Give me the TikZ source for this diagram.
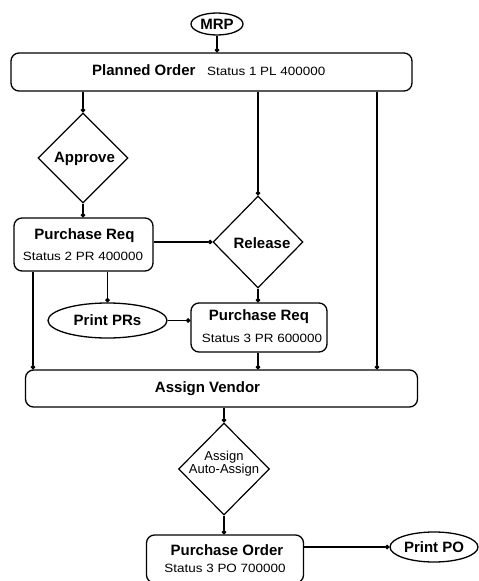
\documentclass[tikz,border=0pt]{standalone}
\usepackage{fontspec}
\setmainfont{Liberation Sans}
\newfontfamily\stfont{Liberation Sans}[FakeStretch=1.12]
\usetikzlibrary{shapes.geometric,arrows.meta}
\begin{document}
\begin{tikzpicture}[x=1pt,y=-1pt,
  box/.style={draw,line width=1.3pt,rounded corners=8pt,inner sep=0pt,align=center},
  oval/.style={draw,ellipse,line width=1.3pt,inner sep=0pt},
  dia/.style={draw,diamond,line width=1.2pt,inner sep=0pt,aspect=1},
  conn/.style={line width=1.1pt,-{Circle[length=4.5pt]}},
  mainfont/.style={font=\fontsize{15}{20}\selectfont\bfseries},
  stat/.style={font=\fontsize{12}{14}\stfont}]
\useasboundingbox (0,0) rectangle (479,581);
\clip (0,0) rectangle (479,581);
% nodes
\node[oval,mainfont,minimum width=52,minimum height=22] (MRP) at (217,24) {MRP};
\node[box,minimum width=401,minimum height=38] (PL) at (211.5,72) {};
\node[mainfont,anchor=base west,inner sep=0] (PLt) at (92,75) {Planned Order};
\node[stat,anchor=base west,inner sep=0] (PLs) at (207,75) {Status 1 PL 400000};
\node[dia,minimum width=90,minimum height=90] (APP) at (83,158) {};
\node[mainfont,inner sep=0] (APPt) at (84.5,159) {Approve};
\node[dia,minimum width=90,minimum height=92] (REL) at (258,242) {};
\node[mainfont,inner sep=0] (RELt) at (262,243) {Release};
\node[box,minimum width=139,minimum height=53] (PR1) at (83.5,244.5) {};
\node[mainfont,inner sep=0] (PR1t) at (84.5,236) {Purchase Req};
\node[stat,inner sep=0] (PR1s) at (83,256) {Status 2 PR 400000};
\node[oval,mainfont,minimum width=119,minimum height=35] (PPR) at (107.5,320.5) {Print PRs};
\node[box,minimum width=136,minimum height=49] (PR2) at (259,327.5) {};
\node[mainfont,inner sep=0] (PR2t) at (259,317) {Purchase Req};
\node[stat,inner sep=0] (PR2s) at (262,338) {Status 3 PR 600000};
\node[box,minimum width=392,minimum height=37] (AV) at (221.5,388.5) {};
\node[mainfont,inner sep=0] (AVt) at (207.5,389) {Assign Vendor};
\node[dia,minimum width=91,minimum height=92] (AS) at (224,469) {};
\node[font=\fontsize{13}{13}\selectfont,align=center,inner sep=0] (ASt) at (224,464) {Assign\\Auto-Assign};
\node[box,minimum width=157,minimum height=48] (PO) at (225,559) {};
\node[mainfont,inner sep=0] (POt) at (227,550) {Purchase Order};
\node[stat,inner sep=0] (POs) at (225,568) {Status 3 PO 700000};
\node[oval,mainfont,minimum width=88,minimum height=30] (PPO) at (434,547) {Print PO};
\coordinate (leftx) at (33,0);
\coordinate (rightx) at (377,0);
% connectors
\draw[conn] (MRP.south) -- (MRP.south |- PL.north);
\draw[conn] (PL.south -| APP.north) -- (APP.north);
\draw[conn] (PL.south -| REL.north) -- (REL.north);
\draw[conn] (PL.south -| rightx) -- (AV.north -| rightx);
\draw[conn] (APP.south) -- (APP.south |- PR1.north);
\draw[conn] (PR1.east |- REL.west) -- (REL.west);
\draw[conn] (PR1.south -| PPR.north) -- (PPR.north);
\draw[conn] (PR1.south -| leftx) -- (AV.north -| leftx);
\draw[conn] (PPR.east) -- (PPR.east -| PR2.west);
\draw[conn] (REL.south) -- (REL.south |- PR2.north);
\draw[conn] (PR2.south -| REL.south) -- (AV.north -| REL.south);
\draw[conn] (AV.south -| AS.north) -- (AS.north);
\draw[conn] (AS.south) -- (AS.south |- PO.north);
\draw[conn] (PO.east |- PPO.west) -- (PPO.west);
\end{tikzpicture}
\end{document}
